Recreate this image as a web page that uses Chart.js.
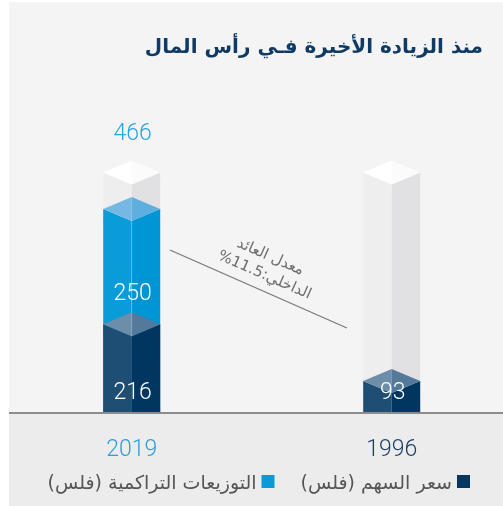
<!DOCTYPE html>
<html>
<head>
<meta charset="utf-8">
<script src="https://cdn.jsdelivr.net/npm/chart.js@4.4.0/dist/chart.umd.min.js"></script>
<style>
html, body { margin: 0; padding: 0; background: #fff; }
#wrap { width: 503px; height: 506px; }
</style>
</head>
<body>
<div id="wrap"><canvas id="chart" width="503" height="506"></canvas></div>
<script>
// data, chronological order (x axis is reversed, RTL)
const years = ['1996', '2019'];
const sharePrice = [93, 216];
const distributions = [0, 250];
const trackMax = 545; // grey background column
const yearColors = ['#1c3f66', '#2a9fdb'];
const seriesNames = ['سعر السهم (فلس)', 'التوزيعات التراكمية (فلس)'];
const seriesColors = ['#04365f', '#0a9ad8'];
const titleText = 'منذ الزيادة الأخيرة فـي رأس المال';
const irrLabel = ['معدل العائد', 'الداخلي:11.5%'];
const irrFrom = [0.853, 351]; // [category index, value]
const irrTo = [0.172, 182];

const faces = {
    track: { left: '#eeeeee', right: '#e1e1e3', topL: '#ffffff', topR: '#fbfbfb' },
    price: { left: '#1e4e73', right: '#003660', topL: '#6d8ea8', topR: '#55799a' },
    dist: { left: '#0a9bd9', right: '#0096d5', topL: '#76b8e4', topR: '#5eaee0' },
};
const DEPTH = 12;
const NUM_FONT = '300 23px Roboto, "Liberation Sans", sans-serif';
const AR_FONT = '"DejaVu Sans", sans-serif';

/** draw the two front faces, flat bottom at yBottom */
let drawFaces = (ctx, cx, hw, yTop, yBottom, pal) => {
    ctx.fillStyle = pal.left;
    ctx.beginPath();
    ctx.moveTo(cx - hw, yTop + DEPTH);
    ctx.lineTo(cx, yTop + 2 * DEPTH);
    ctx.lineTo(cx, yBottom);
    ctx.lineTo(cx - hw, yBottom);
    ctx.closePath();
    ctx.fill();
    ctx.fillStyle = pal.right;
    ctx.beginPath();
    ctx.moveTo(cx + hw, yTop + DEPTH);
    ctx.lineTo(cx, yTop + 2 * DEPTH);
    ctx.lineTo(cx, yBottom);
    ctx.lineTo(cx + hw, yBottom);
    ctx.closePath();
    ctx.fill();
};

let drawTop = (ctx, cx, hw, yTop, pal) => {
    ctx.fillStyle = pal.topL;
    ctx.beginPath();
    ctx.moveTo(cx, yTop);
    ctx.lineTo(cx - hw, yTop + DEPTH);
    ctx.lineTo(cx, yTop + 2 * DEPTH);
    ctx.closePath();
    ctx.fill();
    ctx.fillStyle = pal.topR;
    ctx.beginPath();
    ctx.moveTo(cx, yTop);
    ctx.lineTo(cx + hw, yTop + DEPTH);
    ctx.lineTo(cx, yTop + 2 * DEPTH);
    ctx.closePath();
    ctx.fill();
};

const panelPlugin = {
    id: 'panel',
    beforeDraw(chart) {
        const ctx = chart.ctx;
        const bottom = chart.chartArea.bottom;
        ctx.save();
        ctx.fillStyle = '#f4f4f4';
        ctx.fillRect(9, 2, chart.width - 9, bottom - 2);
        ctx.fillStyle = '#ececec';
        ctx.fillRect(9, bottom, chart.width - 9, chart.height - bottom);
        ctx.fillStyle = '#8c8c8c';
        ctx.fillRect(9, bottom, chart.width - 9, 2);

        // title
        ctx.direction = 'rtl';
        ctx.textAlign = 'right';
        ctx.textBaseline = 'alphabetic';
        ctx.fillStyle = '#0e3a63';
        ctx.font = 'bold 20px ' + AR_FONT;
        ctx.fillText(titleText, 483, 53);

        // legend, right to left
        ctx.font = '19px ' + AR_FONT;
        let right = 470;
        chart.data.datasets.forEach(ds => {
            ctx.fillStyle = ds.backgroundColor;
            ctx.fillRect(right - 13, 475, 13, 13);
            ctx.fillStyle = '#555555';
            ctx.fillText(ds.label, right - 18, 489);
            right = right - 18 - ctx.measureText(ds.label).width - 26;
        });
        ctx.restore();
    },
    beforeDatasetsDraw(chart) {
        const ctx = chart.ctx;
        const yScale = chart.scales.y;
        const xScale = chart.scales.x;
        const priceMeta = chart.getDatasetMeta(0);
        const distMeta = chart.getDatasetMeta(1);
        ctx.save();
        years.forEach((year, i) => {
            const pEl = priceMeta.data[i];
            const dEl = distMeta.data[i];
            const cx = pEl.x;
            const hw = pEl.width / 2;
            const base = pEl.base;
            const yTrack = yScale.getPixelForValue(trackMax);

            drawFaces(ctx, cx, hw, yTrack, base, faces.track);
            drawTop(ctx, cx, hw, yTrack, faces.track);
            if (distributions[i] > 0) {
                drawFaces(ctx, cx, hw, dEl.y, base, faces.dist);
            }
            drawFaces(ctx, cx, hw, pEl.y, base, faces.price);
            drawTop(ctx, cx, hw, pEl.y, faces.price);
            if (distributions[i] > 0) {
                ctx.fillStyle = 'rgba(255,255,255,0.25)';
                ctx.fillRect(cx - 0.5, dEl.y + 2 * DEPTH, 1, pEl.y - dEl.y);
                drawTop(ctx, cx, hw, dEl.y, faces.dist);
            }

            // value labels
            ctx.font = NUM_FONT;
            ctx.textAlign = 'center';
            ctx.textBaseline = 'middle';
            ctx.fillStyle = '#ffffff';
            ctx.fillText(String(sharePrice[i]), cx + 1, pEl.base - 19);
            if (distributions[i] > 0) {
                ctx.fillText(String(distributions[i]), cx + 1, dEl.base - 18);
                ctx.fillStyle = '#29a3df';
                ctx.fillText(String(sharePrice[i] + distributions[i]), cx + 1, yTrack - 26);
            }
        });

        // IRR connector
        const x1 = xScale.getPixelForValue(irrFrom[0]);
        const y1 = yScale.getPixelForValue(irrFrom[1]);
        const x2 = xScale.getPixelForValue(irrTo[0]);
        const y2 = yScale.getPixelForValue(irrTo[1]);
        ctx.strokeStyle = '#777777';
        ctx.lineWidth = 1.2;
        ctx.beginPath();
        ctx.moveTo(x1, y1);
        ctx.lineTo(x2, y2);
        ctx.stroke();

        ctx.translate((x1 + x2) / 2, (y1 + y2) / 2);
        ctx.rotate(Math.atan2(y2 - y1, x2 - x1));
        ctx.direction = 'rtl';
        ctx.textAlign = 'center';
        ctx.textBaseline = 'middle';
        ctx.fillStyle = '#6b6b6b';
        ctx.font = '15px ' + AR_FONT;
        ctx.fillText(irrLabel[0], -2, -34);
        ctx.fillText(irrLabel[1], 0, -15);
        ctx.restore();
        return false; // bars are drawn above as prisms
    }
};

new Chart(document.getElementById('chart'), {
    type: 'bar',
    data: {
        labels: years,
        datasets: [
            { label: seriesNames[0], data: sharePrice, backgroundColor: seriesColors[0], barThickness: 57 },
            { label: seriesNames[1], data: distributions, backgroundColor: seriesColors[1], barThickness: 57 },
        ],
    },
    options: {
        responsive: false,
        animation: false,
        events: [],
        layout: {
            padding: { left: 131.7, right: 111.3, top: 135.1, bottom: 0 },
        },
        plugins: {
            legend: { display: false },
            tooltip: { enabled: false },
        },
        scales: {
            x: {
                stacked: true,
                reverse: true,
                offset: false,
                grid: { display: false, drawTicks: false },
                border: { display: false },
                ticks: {
                    padding: 24,
                    color: yearColors,
                    font: { family: 'Roboto', weight: 300, size: 23 },
                },
                afterFit: scale => { scale.height = 94; },
            },
            y: {
                display: false,
                stacked: true,
                min: 0,
                max: 600,
            },
        },
    },
    plugins: [panelPlugin],
});
</script>
</body>
</html>
